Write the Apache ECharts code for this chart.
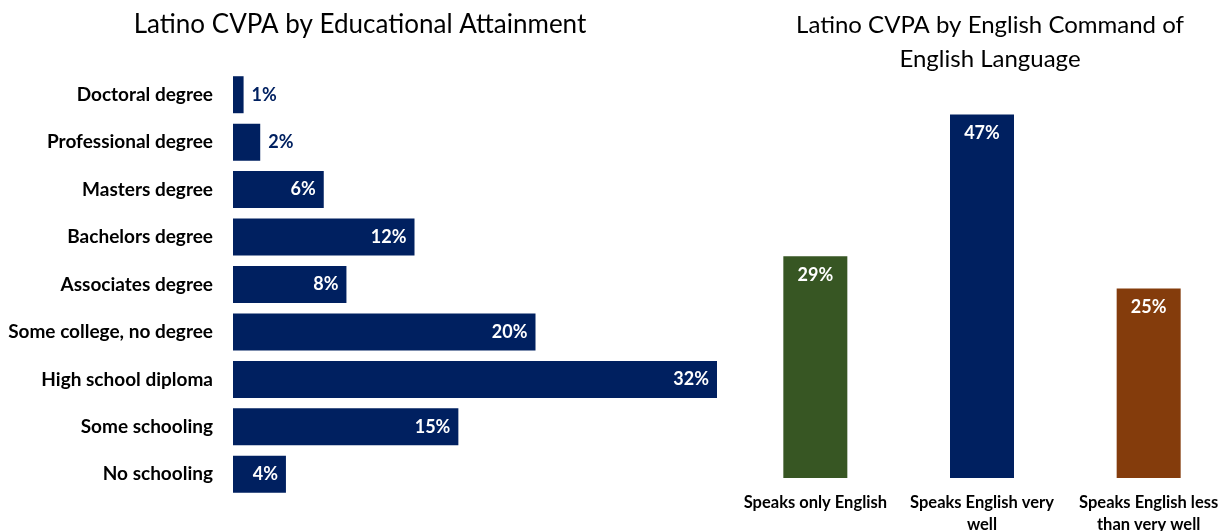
<!DOCTYPE html>
<html>
<head>
<meta charset="utf-8">
<script src="https://cdn.jsdelivr.net/npm/echarts@6/dist/echarts.min.js"></script>
<style>
html,body{margin:0;padding:0;background:#fff;}
#c{width:1225px;height:531px;}
</style>
</head>
<body>
<div id="c"></div>
<script>
const eduCategories = ['Doctoral degree','Professional degree','Masters degree','Bachelors degree','Associates degree','Some college, no degree','High school diploma','Some schooling','No schooling'];
const eduValues = [0.7, 1.8, 6.0, 12.0, 7.5, 20.0, 32.0, 14.9, 3.5];
const langCategories = ['Speaks only English','Speaks English very\nwell','Speaks English less\nthan very well'];
const langValues = [28.8, 47.2, 24.6];
const langColors = ['#375623', '#002060', '#843C0C'];

const FONT = 'Lato, "Open Sans", sans-serif';
const NAVY = '#002060';

const chart = echarts.init(document.getElementById('c'), null, {renderer: 'canvas'});
chart.setOption({
  animation: false,
  backgroundColor: '#ffffff',
  title: [
    {text: 'Latino CVPA by Educational Attainment', left: 355, top: 7, textAlign: 'center',
     textStyle: {fontFamily: FONT, fontSize: 26, fontWeight: 'normal', color: '#000'}},
    {text: 'Latino CVPA by English Command of\nEnglish Language', left: 985, top: 3, textAlign: 'center',
     textStyle: {fontFamily: FONT, fontSize: 24, fontWeight: 'normal', color: '#000', lineHeight: 34}}
  ],
  grid: [
    {left: 233, top: 71, width: 484, height: 427, outerBoundsMode: 'none', containLabel: false},
    {left: 732, top: 16, width: 500, height: 462, outerBoundsMode: 'none', containLabel: false}
  ],
  xAxis: [
    {gridIndex: 0, type: 'value', min: 0, max: 32, show: false},
    {gridIndex: 1, type: 'category', data: langCategories,
     axisLine: {show: false}, axisTick: {show: false},
     axisLabel: {margin: 14, fontFamily: FONT, fontSize: 16.5, fontWeight: 'bold', color: '#000', lineHeight: 22, interval: 0}}
  ],
  yAxis: [
    {gridIndex: 0, type: 'category', data: eduCategories, inverse: true,
     axisLine: {show: false}, axisTick: {show: false},
     axisLabel: {margin: 20, fontFamily: FONT, fontSize: 19, fontWeight: 'bold', color: '#000'}},
    {gridIndex: 1, type: 'value', min: 0, max: 60, show: false}
  ],
  series: [
    {type: 'bar', xAxisIndex: 0, yAxisIndex: 0, barCategoryGap: '22%',
     itemStyle: {color: NAVY},
     label: {show: true, fontFamily: FONT, fontSize: 18, fontWeight: 'bold',
       position: 'insideRight', distance: 8, color: '#fff',
       formatter: p => Math.round(p.value) + '%'},
     data: eduValues.map(v => v < 3 ? {value: v, label: {position: 'right', color: NAVY, distance: 8}} : v)
    },
    {type: 'bar', xAxisIndex: 1, yAxisIndex: 1, barWidth: 64,
     data: langValues.map((v, i) => ({value: v, itemStyle: {color: langColors[i]}})),
     label: {show: true, position: 'insideTop', distance: 10, fontFamily: FONT, fontSize: 18, fontWeight: 'bold', color: '#fff',
       formatter: p => Math.round(p.value) + '%'}}
  ]
});
</script>
</body>
</html>
